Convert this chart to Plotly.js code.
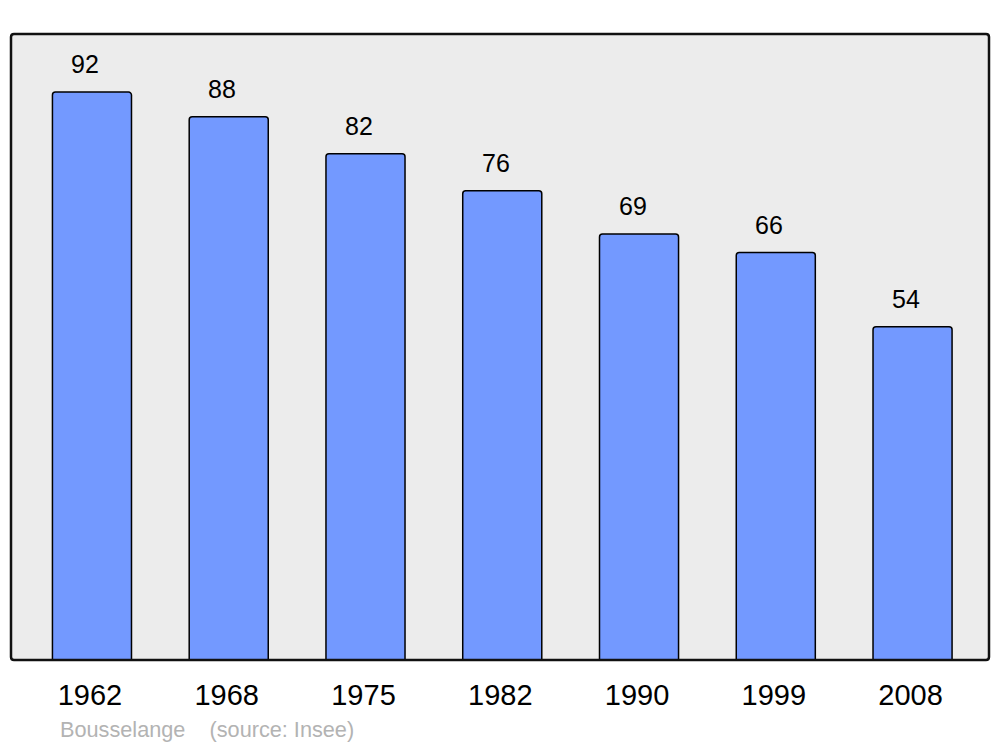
<!DOCTYPE html>
<html>
<head>
<meta charset="utf-8">
<script src="https://cdn.plot.ly/plotly-3.0.1.min.js"></script>
<style>html,body{margin:0;padding:0;background:#fff;}#chart{width:1000px;height:747px;}</style>
</head>
<body>
<div id="chart"></div>
<script>
const years = ['1962', '1968', '1975', '1982', '1990', '1999', '2008'];
const population = [92, 88, 82, 76, 69, 66, 54];
const footerText = 'Bousselange\u00a0\u00a0\u00a0\u00a0(source: Insee)';

const FONT = '"Liberation Sans", Arial, sans-serif';

const trace = {
  type: 'bar',
  x: years,
  y: population,
  width: 0.578,
  marker: {
    color: '#7399ff',
    line: {color: '#000000', width: 1.5},
    cornerradius: 3
  },
  hoverinfo: 'none'
};

const labels = years.map((yr, i) => ({
  x: i, y: population[i], xref: 'x', yref: 'y',
  text: String(population[i]),
  showarrow: false, yanchor: 'bottom', yshift: 12, xshift: -6.5,
  font: {family: FONT, size: 25, color: '#000'}
}));

const L = 11, R = 11, T = 34, B = 87, W = 1000, H = 747;
const pw = W - L - R, ph = H - T - B;

labels.push({
  x: (58 - L) / pw, y: (H - B - 729.5) / ph, xref: 'paper', yref: 'paper', text: footerText,
  showarrow: false, xanchor: 'left', yanchor: 'middle',
  font: {family: FONT, size: 21.7, color: '#b3b3b3'}
});

const rx = 3 / pw, ry = 3 / ph;
const framePath = `M ${rx} 0 L ${1 - rx} 0 Q 1 0 1 ${ry} L 1 ${1 - ry} Q 1 1 ${1 - rx} 1 L ${rx} 1 Q 0 1 0 ${1 - ry} L 0 ${ry} Q 0 0 ${rx} 0 Z`;

const layout = {
  width: W, height: H,
  margin: {l: L, r: R, t: T, b: B, pad: 0},
  paper_bgcolor: '#ffffff',
  plot_bgcolor: 'rgba(0,0,0,0)',
  showlegend: false,
  xaxis: {
    type: 'category',
    range: [-0.592, 6.559],
    showgrid: false, zeroline: false, showline: false,
    ticks: '', ticklabelstandoff: 15, ticklabelshift: -2,
    tickfont: {family: FONT, size: 29, color: '#000'},
    fixedrange: true
  },
  yaxis: {
    range: [0, 101.4],
    visible: false, showgrid: false, zeroline: false,
    fixedrange: true
  },
  shapes: [
    {type: 'path', xref: 'paper', yref: 'paper', path: framePath,
     fillcolor: '#ececec', line: {width: 0}, layer: 'below'},
    {type: 'path', xref: 'paper', yref: 'paper', path: framePath,
     fillcolor: 'rgba(0,0,0,0)', line: {color: '#111', width: 2.5}, layer: 'above'}
  ],
  annotations: labels
};

Plotly.newPlot('chart', [trace], layout, {displayModeBar: false, staticPlot: true});
</script>
</body>
</html>
